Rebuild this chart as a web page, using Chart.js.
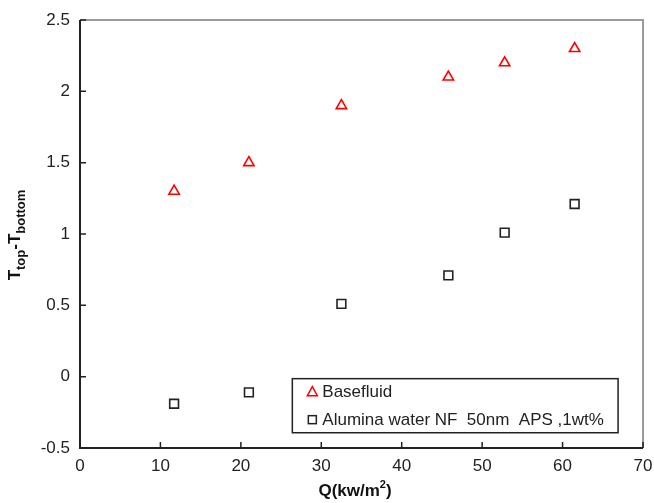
<!DOCTYPE html>
<html>
<head>
<meta charset="utf-8">
<script src="https://cdn.jsdelivr.net/npm/chart.js@4"></script>
<style>
  html, body { margin: 0; padding: 0; background: #fff; }
  #wrap { width: 654px; height: 503px; }
</style>
</head>
<body>
<div id="wrap"><canvas id="chart" width="654" height="503"></canvas></div>
<script>
// heat flux (kW/m2) and temperature difference top-bottom
const heatFlux = [11.7, 21, 32.5, 45.8, 52.8, 61.5];
const baseFluid = [1.3, 1.5, 1.9, 2.1, 2.2, 2.3];
const alumina = [-0.19, -0.11, 0.51, 0.71, 1.01, 1.21];
const xTicks = [0, 10, 20, 30, 40, 50, 60, 70];
const yTicks = [-0.5, 0, 0.5, 1, 1.5, 2, 2.5];
const yTickLabels = ['-0.5', '0', '0.5', '1', '1.5', '2', '2.5'];
const seriesNames = ['Basefluid', 'Alumina water NF  50nm  APS ,1wt%'];

const FONT = '"Liberation Sans", Arial, sans-serif';

function toPoints(ys) {
    return heatFlux.map((x, i) => ({ x: x, y: ys[i] }));
}

// draws a run of [text, size, baselineShift] pieces starting at x
function drawRuns(ctx, parts, x, y) {
    let cx = x;
    parts.forEach(p => {
        ctx.font = 'bold ' + p[1] + 'px ' + FONT;
        ctx.fillText(p[0], cx, y + p[2]);
        cx += ctx.measureText(p[0]).width;
    });
}
function runsWidth(ctx, parts) {
    let w = 0;
    parts.forEach(p => { ctx.font = 'bold ' + p[1] + 'px ' + FONT; w += ctx.measureText(p[0]).width; });
    return w;
}

// frame, inward ticks, axis titles and the boxed legend
const decorations = {
    id: 'decorations',
    afterDraw(chart) {
        const ctx = chart.ctx;
        const a = chart.chartArea;
        const xs = chart.scales.x, ys = chart.scales.y;
        ctx.save();

        // grey top/right frame
        ctx.strokeStyle = '#9a9a9a';
        ctx.lineWidth = 2;
        ctx.beginPath();
        ctx.moveTo(a.left, a.top);
        ctx.lineTo(a.right, a.top);
        ctx.lineTo(a.right, a.bottom);
        ctx.stroke();

        // dark left/bottom axes
        ctx.strokeStyle = '#222';
        ctx.lineWidth = 2;
        ctx.beginPath();
        ctx.moveTo(a.left, a.top);
        ctx.lineTo(a.left, a.bottom);
        ctx.lineTo(a.right, a.bottom);
        ctx.stroke();

        // inward tick marks
        ctx.lineWidth = 1.5;
        ctx.beginPath();
        xTicks.forEach(v => {
            const px = xs.getPixelForValue(v);
            ctx.moveTo(px, a.bottom);
            ctx.lineTo(px, a.bottom - 6);
        });
        yTicks.forEach(v => {
            const py = ys.getPixelForValue(v);
            ctx.moveTo(a.left, py);
            ctx.lineTo(a.left + 6, py);
        });
        ctx.stroke();

        // x title Q(kw/m2)
        ctx.fillStyle = '#111';
        ctx.textBaseline = 'alphabetic';
        ctx.textAlign = 'left';
        const xParts = [['Q(kw/m', 17, 0], ['2', 11, -8], [')', 17, 0]];
        const xw = runsWidth(ctx, xParts);
        drawRuns(ctx, xParts, 355 - xw / 2, 496);

        // y title T_top - T_bottom
        ctx.save();
        ctx.translate(20, (a.top + a.bottom) / 2 + 1);
        ctx.rotate(-Math.PI / 2);
        const yParts = [['T', 17, 0], ['top', 13, 5], ['-T', 17, 0], ['bottom', 13, 5]];
        const yw = runsWidth(ctx, yParts);
        drawRuns(ctx, yParts, -yw / 2, 0);
        ctx.restore();

        // legend box
        const lx = xs.getPixelForValue(26.4), rx = xs.getPixelForValue(66.9);
        const ty1 = ys.getPixelForValue(-0.014), by1 = ys.getPixelForValue(-0.393);
        ctx.strokeStyle = '#222';
        ctx.lineWidth = 1.5;
        ctx.strokeRect(lx, ty1, rx - lx, by1 - ty1);
        ctx.font = '17px ' + FONT;
        ctx.textBaseline = 'middle';
        ctx.fillStyle = '#222';
        const rowY = [ty1 + 13, ty1 + 41];
        const mx = lx + 20;
        // triangle marker
        ctx.strokeStyle = '#ff0000';
        ctx.lineWidth = 1.5;
        ctx.beginPath();
        ctx.moveTo(mx, rowY[0] - 5);
        ctx.lineTo(mx + 5, rowY[0] + 4);
        ctx.lineTo(mx - 5, rowY[0] + 4);
        ctx.closePath();
        ctx.stroke();
        // square marker
        ctx.strokeStyle = '#222';
        ctx.strokeRect(mx - 4, rowY[1] - 4, 8, 8);
        ctx.fillText(seriesNames[0], lx + 30, rowY[0] + 1);
        ctx.fillText(seriesNames[1], lx + 30, rowY[1] + 1);

        ctx.restore();
    }
};

new Chart(document.getElementById('chart'), {
    type: 'scatter',
    data: {
        datasets: [
            {
                label: seriesNames[0],
                data: toPoints(baseFluid),
                pointStyle: 'triangle',
                pointRadius: 6,
                borderColor: '#ff0000',
                backgroundColor: '#ffffff',
                borderWidth: 1.6
            },
            {
                label: seriesNames[1],
                data: toPoints(alumina),
                pointStyle: 'rect',
                pointRadius: 6.2,
                borderColor: '#222222',
                backgroundColor: '#ffffff',
                borderWidth: 1.6
            }
        ]
    },
    options: {
        responsive: false,
        animation: false,
        layout: { padding: { top: 20, right: 11, left: 0, bottom: 0 } },
        plugins: {
            legend: { display: false },
            tooltip: { enabled: false }
        },
        scales: {
            x: {
                type: 'linear',
                min: 0,
                max: 70,
                afterBuildTicks: s => { s.ticks = xTicks.map(v => ({ value: v })); },
                grid: { display: false, drawTicks: false },
                border: { display: false },
                ticks: {
                    padding: 8,
                    color: '#222',
                    font: { family: FONT, size: 17 }
                },
                afterFit: s => { s.height = 55; s.paddingLeft = 0; s.paddingRight = 0; }
            },
            y: {
                min: -0.5,
                max: 2.5,
                afterBuildTicks: s => { s.ticks = yTicks.map(v => ({ value: v })); },
                grid: { display: false, drawTicks: false },
                border: { display: false },
                ticks: {
                    padding: 10,
                    color: '#222',
                    font: { family: FONT, size: 17 },
                    callback: v => yTickLabels[yTicks.indexOf(v)]
                },
                afterFit: s => { s.width = 80; s.paddingTop = 0; s.paddingBottom = 0; }
            }
        }
    },
    plugins: [decorations]
});
</script>
</body>
</html>
